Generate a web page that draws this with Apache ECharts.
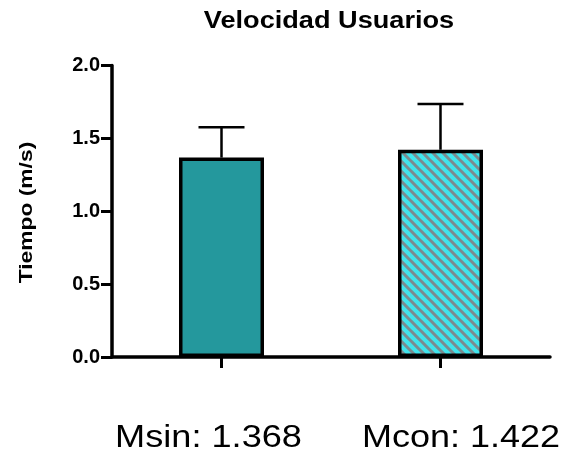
<!DOCTYPE html>
<html>
<head>
<meta charset="utf-8">
<script src="https://cdn.jsdelivr.net/npm/echarts@6/dist/echarts.min.js"></script>
<style>
  html, body { margin: 0; padding: 0; background: #fff; }
  #chart { width: 567px; height: 462px; }
</style>
</head>
<body>
<div id="chart"></div>
<script>
// Group means and upper standard deviations
const categories = ['Msin', 'Mcon'];
const means = [1.368, 1.422];
const sdUpper = [0.208, 0.314];
const yTicks = [0.0, 0.5, 1.0, 1.5, 2.0];
const titleText = 'Velocidad Usuarios';
const yAxisTitle = 'Tiempo (m/s)';

const FONT = '"Liberation Sans", Arial, Helvetica, sans-serif';

// Diagonal hatch tile for the second bar
function hatchTile() {
  const s = 10;
  const c = document.createElement('canvas');
  c.width = s; c.height = s;
  const g = c.getContext('2d');
  g.fillStyle = '#40e4ec';
  g.fillRect(0, 0, s, s);
  g.strokeStyle = '#7b8b8f';
  g.lineWidth = 3;
  g.beginPath();
  for (const off of [-s, 0, s]) {
    g.moveTo(off - 1, -1);
    g.lineTo(off + s + 1, s + 1);
  }
  g.stroke();
  return c;
}

const barFills = ['#24989d', { image: hatchTile(), repeat: 'repeat' }];

const chart = echarts.init(document.getElementById('chart'), null, { renderer: 'canvas' });

chart.setOption({
  animation: false,
  backgroundColor: '#fff',
  grid: { left: 112, right: 17, top: 65.5, bottom: 105, containLabel: false },
  xAxis: {
    type: 'category',
    data: categories,
    axisLine: { show: true, lineStyle: { color: '#000', width: 3.5 } },
    axisTick: { show: true, alignWithLabel: true, length: 11, lineStyle: { color: '#000', width: 3 } },
    axisLabel: { show: false },
    splitLine: { show: false }
  },
  yAxis: {
    type: 'value',
    min: yTicks[0],
    max: yTicks[yTicks.length - 1],
    interval: yTicks[1] - yTicks[0],
    axisLine: { show: true, lineStyle: { color: '#000', width: 3.5 } },
    axisTick: { show: true, length: 11, lineStyle: { color: '#000', width: 3 } },
    axisLabel: {
      margin: 12,
      color: '#000',
      fontFamily: FONT,
      fontWeight: 'bold',
      fontSize: 20,
      formatter: v => v.toFixed(1)
    },
    splitLine: { show: false }
  },
  series: [
    {
      type: 'bar',
      barWidth: 85,
      data: means.map((m, i) => ({
        value: m,
        itemStyle: { color: barFills[i], borderColor: '#000', borderWidth: 3.5 }
      }))
    },
    {
      type: 'custom',
      z: 5,
      data: categories.map((c, i) => [i, means[i], sdUpper[i]]),
      renderItem: function (params, api) {
        const x = api.value(0), m = api.value(1), e = api.value(2);
        const base = api.coord([x, m]);
        const top = api.coord([x, m + e]);
        const half = api.size([1, 0])[0] * 0.105;
        const st = { stroke: '#000', lineWidth: 2.5 };
        return {
          type: 'group',
          children: [
            { type: 'line', shape: { x1: base[0], y1: base[1], x2: top[0], y2: top[1] }, style: st },
            { type: 'line', shape: { x1: top[0] - half, y1: top[1], x2: top[0] + half, y2: top[1] }, style: st }
          ]
        };
      }
    }
  ],
  graphic: [
    {
      type: 'text', x: 329, y: 22, scaleX: 1.18,
      style: { text: titleText, font: 'bold 23px ' + FONT, fill: '#000', align: 'center', verticalAlign: 'middle' }
    },
    {
      type: 'text', x: 27, y: 212.5, rotation: Math.PI / 2, scaleX: 1.2,
      style: { text: yAxisTitle, font: 'bold 19px ' + FONT, fill: '#000', align: 'center', verticalAlign: 'middle' }
    },
    {
      type: 'text', x: 208.5, y: 438.5, scaleX: 1.13,
      style: { text: categories[0] + ': ' + means[0].toFixed(3), font: '32px ' + FONT, fill: '#000', align: 'center', verticalAlign: 'middle' }
    },
    {
      type: 'text', x: 461, y: 438.5, scaleX: 1.125,
      style: { text: categories[1] + ': ' + means[1].toFixed(3), font: '32px ' + FONT, fill: '#000', align: 'center', verticalAlign: 'middle' }
    }
  ]
});
</script>
</body>
</html>
